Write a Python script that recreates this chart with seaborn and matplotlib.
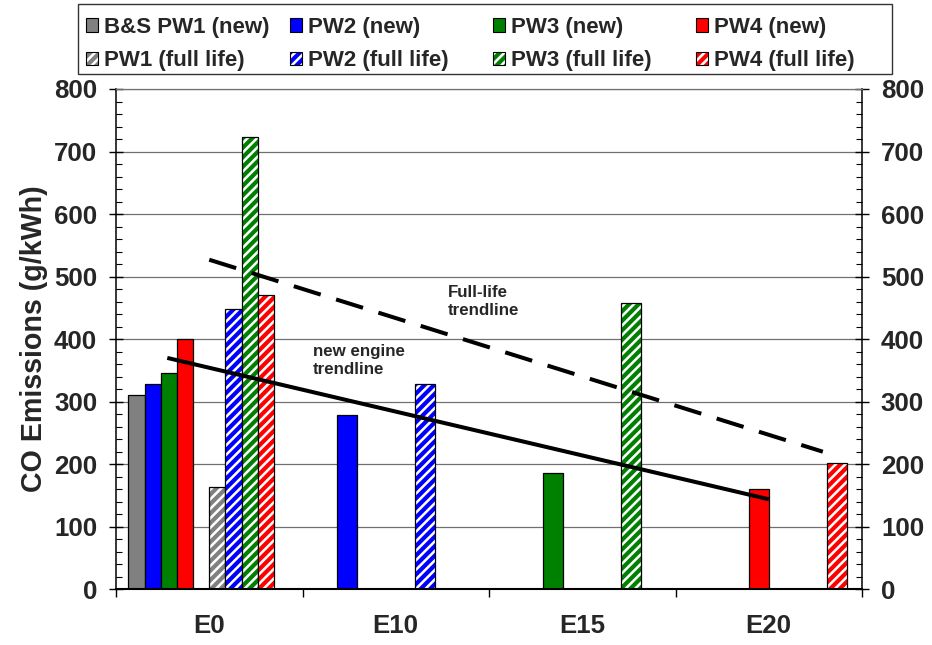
import numpy as np
import pandas as pd
import matplotlib
matplotlib.use('Agg')
import matplotlib.pyplot as plt
import matplotlib.patches as mpatches
from matplotlib.colors import to_rgba
from matplotlib.ticker import MultipleLocator
import seaborn as sns

# Categories and series
fuels = ['E0', 'E10', 'E15', 'E20']
colors = ['#808080', '#0000FF', '#008000', '#FF0000']
new_labels = ['B&S PW1 (new)', 'PW2 (new)', 'PW3 (new)', 'PW4 (new)']
full_labels = ['PW1 (full life)', 'PW2 (full life)', 'PW3 (full life)', 'PW4 (full life)']

# E0 baseline: every engine, new and at full life (g/kWh)
e0_new = [311, 329, 346, 401]
e0_full = [163, 449, 723, 471]

# Ethanol blends: one engine per blend
blend_fuels = ['E10', 'E15', 'E20']
blend_engine_idx = [1, 2, 3]
blend_new = [279, 186, 161]
blend_full = [328, 458, 202]

# Trendlines (category units on x)
new_trend_x = [-0.225, 3.0]
new_trend_y = [370, 144]
full_trend_x = [0.0, 3.29]
full_trend_y = [527, 220]

HATCH = '///////'

# Build tables for seaborn
e0_df = pd.DataFrame({
    'fuel': ['E0'] * 8,
    'series': new_labels + full_labels,
    'value': e0_new + e0_full,
})
blend_df = pd.DataFrame({
    'fuel': blend_fuels + blend_fuels,
    'series': [new_labels[i] for i in blend_engine_idx] + [full_labels[i] for i in blend_engine_idx],
    'value': blend_new + blend_full,
})

palette = dict(zip(new_labels + full_labels, colors + colors))
palette['gap1'] = 'white'
palette['gap2'] = 'white'
e0_order = new_labels + ['gap1'] + full_labels + ['gap2']
blend_order = new_labels + full_labels

sns.set_theme(style='white')
plt.rcParams['font.family'] = ['Liberation Sans', 'DejaVu Sans']
plt.rcParams['font.weight'] = 'bold'
plt.rcParams['hatch.linewidth'] = 1.5

DPI = 200
W, H = 932, 645
fig = plt.figure(figsize=(W / DPI, H / DPI), dpi=DPI)
ax = fig.add_axes([116 / W, 1 - 589.3 / H, 746 / W, 500.3 / H])


def set_hatch_color(patch, c):
    if hasattr(patch, 'set_hatchcolor'):
        patch.set_hatchcolor(c)
    else:
        patch._hatch_color = to_rgba(c)


def style_full_life(containers, order):
    for cont, name in zip(containers, order):
        if name in full_labels:
            for p in cont.patches:
                p.set_facecolor('white')
                p.set_hatch(HATCH)
                set_hatch_color(p, palette[name])


# E0 cluster: 10 slots (gap between new and full life)
n0 = len(ax.containers)
sns.barplot(data=e0_df, x='fuel', y='value', hue='series', order=fuels, hue_order=e0_order,
            palette=palette, saturation=1, width=0.8675, edgecolor='black', linewidth=0.45,
            errorbar=None, legend=False, ax=ax)
style_full_life(ax.containers[n0:], e0_order)

# blend clusters: 8 slots
n1 = len(ax.containers)
sns.barplot(data=blend_df, x='fuel', y='value', hue='series', order=fuels, hue_order=blend_order,
            palette=palette, saturation=1, width=0.84, edgecolor='black', linewidth=0.45,
            errorbar=None, legend=False, ax=ax)
style_full_life(ax.containers[n1:], blend_order)

# trendlines
ax.plot(new_trend_x, new_trend_y, color='black', lw=1.45, solid_capstyle='butt', zorder=5)
ax.plot(full_trend_x, full_trend_y, color='black', lw=1.45, dashes=(7, 4), zorder=5)

ax.text(1.278, 486, 'Full-life\ntrendline', fontsize=6.1, fontweight='bold', ha='left', va='top',
        linespacing=1.25)
ax.text(0.555, 393, 'new engine\ntrendline', fontsize=6.1, fontweight='bold', ha='left', va='top',
        linespacing=1.25)

# axes
ax.set_xlim(-0.5, 3.5)
ax.set_ylim(0, 800)
ax.set_xlabel('')
ax.set_ylabel('CO Emissions (g/kWh)', fontsize=10.3, fontweight='bold')
ax.yaxis.set_label_coords(-0.091, 0.5)

ax.yaxis.set_major_locator(MultipleLocator(100))
ax.yaxis.set_minor_locator(MultipleLocator(20))
ax.yaxis.grid(True, which='major', color='#707070', lw=0.45)
ax.set_axisbelow(True)
ax.tick_params(axis='y', which='major', direction='inout', length=5, width=0.5,
               left=True, right=True, labelleft=True, labelright=True,
               labelsize=9.3, pad=4.3, color='black')
ax.tick_params(axis='y', which='minor', direction='in', length=2.2, width=0.4,
               left=True, right=True, color='black')

ax.set_xticks(range(len(fuels)))
ax.set_xticklabels(fuels)
ax.set_xticks(np.arange(-0.5, len(fuels), 1.0), minor=True)
ax.tick_params(axis='x', which='major', length=0, labelsize=9.3, pad=9)
ax.tick_params(axis='x', which='minor', direction='out', length=2.9, width=0.5,
               bottom=True, color='black')
for lab in ax.get_xticklabels() + ax.get_yticklabels():
    lab.set_fontweight('bold')
for t in ax.yaxis.get_major_ticks():
    t.label2.set_fontweight('bold')

for side in ['left', 'right']:
    ax.spines[side].set_color('black')
    ax.spines[side].set_linewidth(0.55)
ax.spines['bottom'].set_color('black')
ax.spines['bottom'].set_linewidth(0.75)
ax.spines['top'].set_color('#707070')
ax.spines['top'].set_linewidth(0.45)

# legend: Excel style, equal-width columns -> one small legend per column inside a shared frame
col_x = [86, 290, 493, 696]
for i, c in enumerate(colors):
    hn = mpatches.Patch(facecolor=c, edgecolor='black', linewidth=0.4, label=new_labels[i])
    hf = mpatches.Patch(facecolor='white', edgecolor='black', linewidth=0.4, hatch=HATCH,
                        label=full_labels[i])
    set_hatch_color(hf, c)
    leg = fig.legend(handles=[hn, hf], ncol=1, loc='upper left',
                     bbox_to_anchor=(col_x[i] / W, 1 - 17 / H),
                     borderaxespad=0, borderpad=0, frameon=False,
                     prop={'size': 8, 'weight': 'bold'}, handlelength=0.55, handleheight=0.55,
                     handletextpad=0.27, labelspacing=0.55)
    set_hatch_color(leg.get_patches()[1], c)

frame = mpatches.Rectangle((78 / W, 1 - 74 / H), 814 / W, 70 / H, transform=fig.transFigure,
                           fill=False, edgecolor='#333333', linewidth=0.5)
fig.patches.append(frame)

fig.savefig('out.png', dpi=DPI, facecolor='white')
